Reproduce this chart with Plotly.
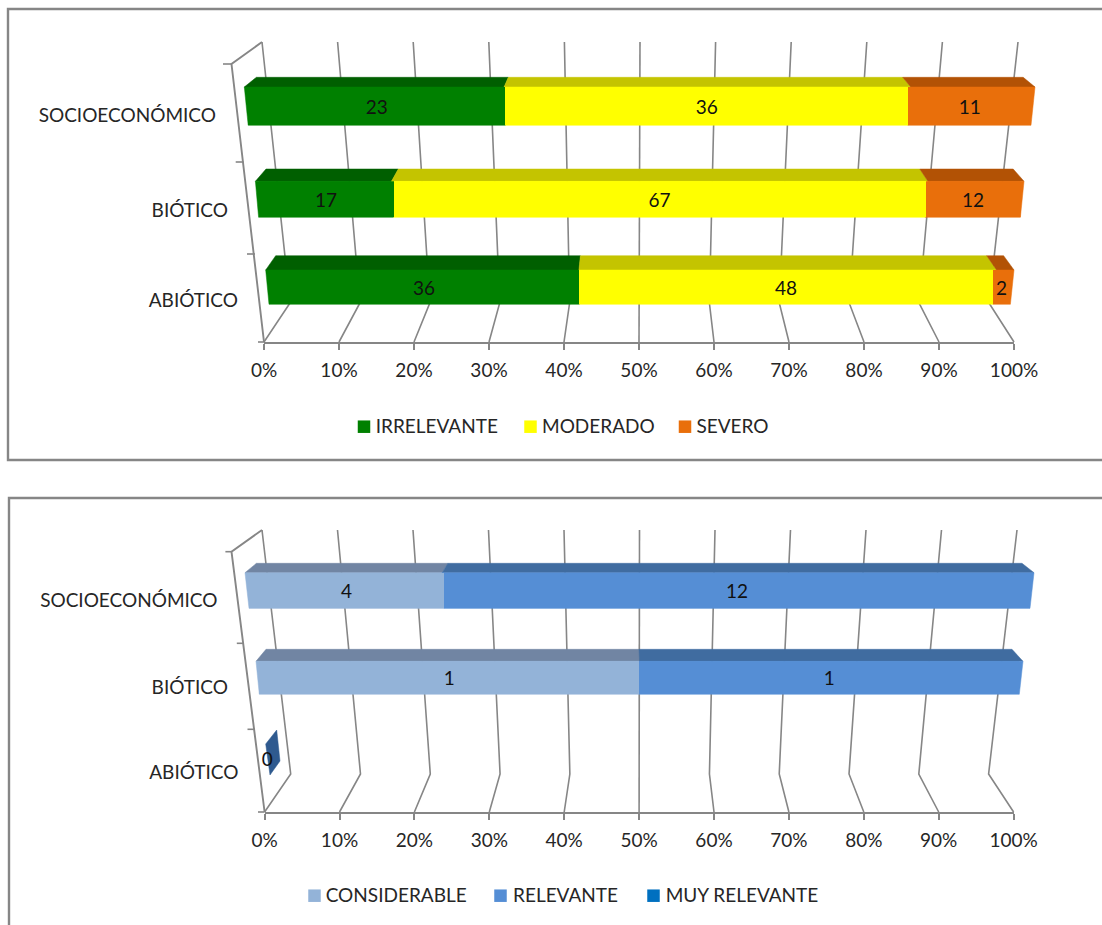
import plotly.graph_objects as go

# ---------- data ----------
categories = ["ABIÓTICO", "BIÓTICO", "SOCIOECONÓMICO"]
tick_values = [0, 10, 20, 30, 40, 50, 60, 70, 80, 90, 100]

series_top = ["IRRELEVANTE", "MODERADO", "SEVERO"]
irrelevante = [36, 17, 23]
moderado = [48, 67, 36]
severo = [2, 12, 11]

series_bottom = ["CONSIDERABLE", "RELEVANTE", "MUY RELEVANTE"]
considerable = [0, 1, 4]
relevante = [0, 1, 12]
muy_relevante = [0, 0, 0]

# ---------- styling and geometry (pixels of the 1102x925 page) ----------
W, H = 1102, 925
FONT = "Lato"
FS = 19
TXT = "#262626"
GRID = "#868686"

charts = [
    dict(
        names=series_top,
        values=[irrelevante, moderado, severo],
        front=["#008000", "#FFFF00", "#E96F0B"],
        top=["#005F00", "#C4C400", "#B25205"],
        rows=[
            dict(yt=255.7, xt=(275.7, 1003.6), yf=270, xf=(265.7, 1014), yb=304.3, xb=(269, 1010.4)),
            dict(yt=169, xt=(266, 1013.2), yf=181.3, xf=(255.4, 1024), yb=217.3, xb=(258.6, 1020.4)),
            dict(yt=77.3, xt=(256.4, 1023.2), yf=87, xf=(244.3, 1035), yb=125.3, xb=(248.2, 1031)),
        ],
        cat_pos=[(238, 302), (228, 212), (216, 117.5)],
        border=[(W, 9), (8, 9), (8, 460), (W, 460)],
        wall=dict(top=(262, 1018, 42), floor=(290, 989, 303), axis=(264, 1014, 342), corner=(231.5, 64)),
        yticks=[(223, 231.5, 64), (235.7, 243.5, 162), (247, 255, 254), (258, 264, 342)],
        legend=[(364, 375.7), (530.5, 542), (685, 696.4)],
        legend_y=428.5,
        marker_y=426.7,
    ),
    dict(
        names=series_bottom,
        values=[considerable, relevante, muy_relevante],
        front=["#93B3D8", "#558ED5", "#0070C0"],
        top=["#7185A3", "#406CA0", "#0070C0"],
        rows=[
            dict(yt=730, xt=(276.7, 1002), yf=744, xf=(265.7, 1013), yb=775, xb=(270, 1009), side=(280, 761)),
            dict(yt=649.3, xt=(266, 1012), yf=661.3, xf=(256, 1023), yb=694.3, xb=(259.3, 1019.3)),
            dict(yt=563.3, xt=(256.4, 1022), yf=572.7, xf=(245, 1034), yb=608.3, xb=(249, 1030)),
        ],
        cat_pos=[(238.5, 774), (228, 689.7), (217.5, 602)],
        border=[(W, 498), (9, 498), (9, H + 5)],
        wall=dict(top=(262, 1017, 530), floor=(290.7, 988.6, 774), axis=(264.6, 1013.6, 812), corner=(231.5, 551.7)),
        yticks=[(225.4, 231.5, 551.7), (236.8, 243, 643.3), (247.5, 255, 729.3), (258, 264.6, 812)],
        legend=[(314.5, 325.7), (500.5, 513), (653.5, 665.7)],
        legend_y=897.5,
        marker_y=895.7,
    ),
]
SIDE_COLOR = "#2F5A8F"

fig = go.Figure()
layout = dict(
    width=W, height=H, margin=dict(l=0, r=0, t=0, b=0, pad=0, autoexpand=False),
    paper_bgcolor="white", plot_bgcolor="rgba(0,0,0,0)",
    barmode="stack", barnorm="percent", bargap=0, showlegend=False,
    font=dict(family=FONT, size=FS, color=TXT),
    xaxis=dict(domain=[0, 1], range=[0, W], visible=False, fixedrange=True),
    yaxis=dict(domain=[0, 1], range=[H, 0], visible=False, fixedrange=True),
)


def line(xs, ys, color=GRID, width=1.6):
    fig.add_trace(go.Scatter(x=xs, y=ys, mode="lines", line=dict(color=color, width=width),
                             hoverinfo="skip", xaxis="x", yaxis="y"))


def poly(xs, ys, color):
    fig.add_trace(go.Scatter(x=xs + xs[:1], y=ys + ys[:1], mode="lines", fill="toself", fillcolor=color,
                             line=dict(color=color, width=0.5), hoverinfo="skip", xaxis="x", yaxis="y"))


def lerp(span, pct):
    return span[0] + (span[1] - span[0]) * pct / 100.0


axis_n = 2
for ch in charts:
    # frame
    line([p[0] for p in ch["border"]], [p[1] for p in ch["border"]], "#868686", 2.4)
    # walls and floor
    w = ch["wall"]
    for v in tick_values:
        xt = lerp(w["top"][:2], v)
        xfl = lerp(w["floor"][:2], v)
        xa = lerp(w["axis"][:2], v)
        line([xt, xfl, xa], [w["top"][2], w["floor"][2], w["axis"][2]])
    cx, cy = w["corner"]
    line([w["top"][0], cx, w["axis"][0]], [w["top"][2], cy, w["axis"][2]], GRID, 1.9)
    for x0, x1, y in ch["yticks"]:
        line([x0, x1], [y, y], GRID, 1.6)

    # bar faces: perspective parts drawn beneath the real bars
    for i, row in enumerate(ch["rows"]):
        totals = sum(vals[i] for vals in ch["values"])
        if totals == 0:
            sx, sy = row["side"]
            poly([row["xt"][0], sx, row["xb"][0], row["xf"][0]],
                 [row["yt"], sy, row["yb"], row["yf"]], SIDE_COLOR)
            continue
        start = 0.0
        for s, vals in enumerate(ch["values"]):
            pct = vals[i] / totals * 100
            if pct == 0:
                continue
            end = start + pct
            poly([lerp(row["xt"], start), lerp(row["xt"], end), lerp(row["xf"], end), lerp(row["xf"], start)],
                 [row["yt"], row["yt"], row["yf"], row["yf"]], ch["top"][s])
            poly([lerp(row["xf"], start), lerp(row["xf"], end), lerp(row["xb"], end), lerp(row["xb"], start)],
                 [row["yf"], row["yf"], row["yb"], row["yb"]], ch["front"][s])
            start = end

    # zero label
    for i, row in enumerate(ch["rows"]):
        if sum(vals[i] for vals in ch["values"]) == 0:
            fig.add_trace(go.Scatter(x=[row["xf"][0] + 1.5], y=[(row["yf"] + row["yb"]) / 2 + 2], mode="text",
                                     text=[str(ch["values"][0][i])], textposition="middle center",
                                     textfont=dict(family=FONT, size=FS, color="#111111"),
                                     hoverinfo="skip", xaxis="x", yaxis="y"))

    # category labels
    fig.add_trace(go.Scatter(x=[p[0] for p in ch["cat_pos"]], y=[p[1] for p in ch["cat_pos"]], mode="text",
                             text=categories, textposition="middle left",
                             textfont=dict(family=FONT, size=FS, color=TXT),
                             hoverinfo="skip", xaxis="x", yaxis="y"))

    # legend
    for s, name in enumerate(ch["names"]):
        mx, tx = ch["legend"][s]
        fig.add_trace(go.Scatter(x=[mx], y=[ch["marker_y"]], mode="markers",
                                 marker=dict(symbol="square", size=12.5, color=ch["front"][s], line=dict(width=0)),
                                 hoverinfo="skip", xaxis="x", yaxis="y"))
        fig.add_trace(go.Scatter(x=[tx], y=[ch["legend_y"]], mode="text", text=[name], textposition="middle right",
                                 textfont=dict(family=FONT, size=FS, color=TXT),
                                 hoverinfo="skip", xaxis="x", yaxis="y"))

    # real stacked 100% bars, one axis pair for each perspective row
    for i, row in enumerate(ch["rows"]):
        xa, ya = f"x{axis_n}", f"y{axis_n}"
        layout[f"xaxis{axis_n}"] = dict(domain=[row["xb"][0] / W, row["xb"][1] / W], range=[0, 100],
                                        visible=False, anchor=ya, fixedrange=True, automargin=False)
        layout[f"yaxis{axis_n}"] = dict(domain=[1 - row["yb"] / H, 1 - row["yf"] / H], range=[-0.5, 0.5],
                                        type="category", visible=False, anchor=xa, fixedrange=True, automargin=False)
        for s, vals in enumerate(ch["values"]):
            v = vals[i]
            fig.add_trace(go.Bar(y=[categories[i]], x=[v], name=ch["names"][s], orientation="h",
                                 marker=dict(color=ch["front"][s], line=dict(width=0)),
                                 text=[str(v)] if v else None, textposition="inside", insidetextanchor="middle",
                                 textangle=0, constraintext="none",
                                 insidetextfont=dict(family=FONT, size=FS, color="#111111"),
                                 xaxis=xa, yaxis=ya))
        axis_n += 1

    # front percentage axis (an invisible trace makes the subplot exist)
    xa, ya = f"x{axis_n}", f"y{axis_n}"
    fig.add_trace(go.Scatter(x=tick_values, y=[0] * len(tick_values), mode="lines", opacity=0,
                             line=dict(width=0), hoverinfo="skip", xaxis=xa, yaxis=ya))
    layout[f"xaxis{axis_n}"] = dict(domain=[w["axis"][0] / W, w["axis"][1] / W], range=[0, 100], anchor=ya,
                                    tickmode="array", tickvals=tick_values, ticktext=[f"{v}%" for v in tick_values],
                                    ticks="outside", ticklen=6, tickwidth=1.6, tickcolor=GRID,
                                    showline=True, linecolor=GRID, linewidth=2, showgrid=False, zeroline=False,
                                    ticklabelstandoff=4, tickfont=dict(family=FONT, size=FS, color=TXT),
                                    fixedrange=True, automargin=False)
    layout[f"yaxis{axis_n}"] = dict(domain=[1 - w["axis"][2] / H, 1 - w["floor"][2] / H], range=[0, 1],
                                    visible=False, anchor=xa, fixedrange=True, automargin=False)
    axis_n += 1

fig.update_layout(**layout)
fig.write_html("out.html", post_script="document.body.style.margin='0';document.body.style.overflow='hidden';",
               config=dict(displayModeBar=False))
